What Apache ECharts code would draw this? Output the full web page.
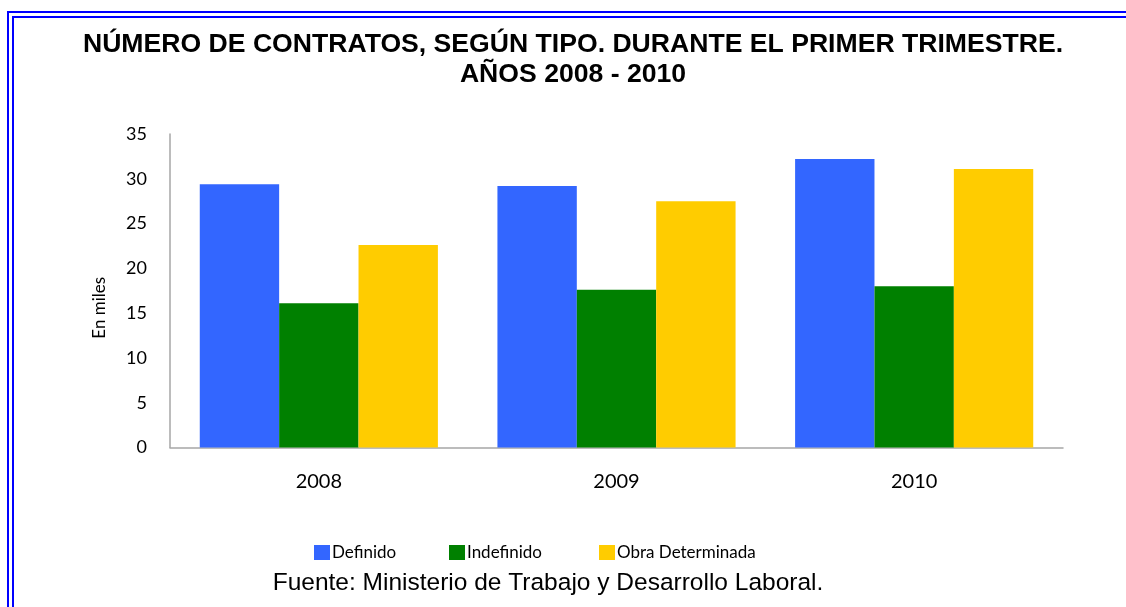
<!DOCTYPE html>
<html>
<head>
<meta charset="utf-8">
<script src="https://cdn.jsdelivr.net/npm/echarts@6/dist/echarts.min.js"></script>
<style>
  html, body { margin: 0; padding: 0; background: #fff; }
  #chart { width: 1126px; height: 607px; }
</style>
</head>
<body>
<div id="chart"></div>
<script>
// datos (en miles)
const years = ['2008', '2009', '2010']
const definido = [29.4, 29.2, 32.2]
const indefinido = [16.1, 17.6, 18.0]
const obraDeterminada = [22.6, 27.5, 31.1]
const seriesNames = ['Definido', 'Indefinido', 'Obra Determinada']
const colors = ['#3366FF', '#008000', '#FFCC00']

// una leyenda por serie para fijar la posicion de cada cuadro
const legendLeft = [309, 444, 594]
const legendStyle = { fontFamily: 'Lato', fontSize: 17, color: '#000', padding: [0, 0, 0, -3] }

const chart = echarts.init(document.getElementById('chart'))

const option = {
  animation: false,
  color: colors,
  title: [
    {
      text: 'NÚMERO DE CONTRATOS, SEGÚN TIPO. DURANTE EL PRIMER TRIMESTRE.\nAÑOS 2008 - 2010',
      left: 573,
      textAlign: 'center',
      top: 30,
      padding: 0,
      textStyle: {
        fontFamily: 'Liberation Sans',
        fontWeight: 'bold',
        fontSize: 26.6,
        lineHeight: 30,
        color: '#000',
      },
    },
    {
      text: 'Fuente: Ministerio de Trabajo y Desarrollo Laboral.',
      left: 548,
      textAlign: 'center',
      top: 571,
      padding: 0,
      textStyle: {
        fontFamily: 'Liberation Sans',
        fontWeight: 'normal',
        fontSize: 24.5,
        lineHeight: 24,
        color: '#000',
      },
    },
  ],
  legend: seriesNames.map((name, i) => ({
    data: [name],
    left: legendLeft[i],
    top: 539,
    icon: 'rect',
    itemWidth: 16,
    itemHeight: 15,
    textStyle: legendStyle,
  })),
  grid: {
    left: 170,
    right: 63,
    top: 134,
    bottom: 159.5,
    containLabel: false,
  },
  xAxis: {
    type: 'category',
    data: years,
    axisTick: { show: false },
    axisLine: { lineStyle: { color: '#a6a6a6', width: 1.5 } },
    axisLabel: { fontFamily: 'Lato', fontSize: 20, color: '#000', margin: 24 },
  },
  yAxis: {
    type: 'value',
    min: 0,
    max: 35,
    interval: 5,
    name: 'En miles',
    nameLocation: 'middle',
    nameGap: 62,
    nameTextStyle: { fontFamily: 'Lato', fontSize: 17, color: '#000', padding: [0, 34, 0, 0] },
    splitLine: { show: false },
    axisTick: { show: false },
    axisLine: { show: true, lineStyle: { color: '#a6a6a6', width: 1.5 } },
    axisLabel: { fontFamily: 'Lato', fontSize: 18, color: '#000', margin: 23 },
  },
  series: [
    { name: seriesNames[0], type: 'bar', data: definido, barGap: '0%', barCategoryGap: '20%' },
    { name: seriesNames[1], type: 'bar', data: indefinido, barGap: '0%', barCategoryGap: '20%' },
    { name: seriesNames[2], type: 'bar', data: obraDeterminada, barGap: '0%', barCategoryGap: '20%' },
  ],
  graphic: [
    // marco doble azul
    {
      type: 'rect',
      silent: true,
      shape: { x: 8, y: 12, width: 1300, height: 800 },
      style: { fill: 'none', stroke: '#0000FF', lineWidth: 2 },
    },
    {
      type: 'rect',
      silent: true,
      shape: { x: 13, y: 17, width: 1300, height: 800 },
      style: { fill: 'none', stroke: '#0000FF', lineWidth: 2 },
    },
  ],
}

chart.setOption(option)
</script>
</body>
</html>
